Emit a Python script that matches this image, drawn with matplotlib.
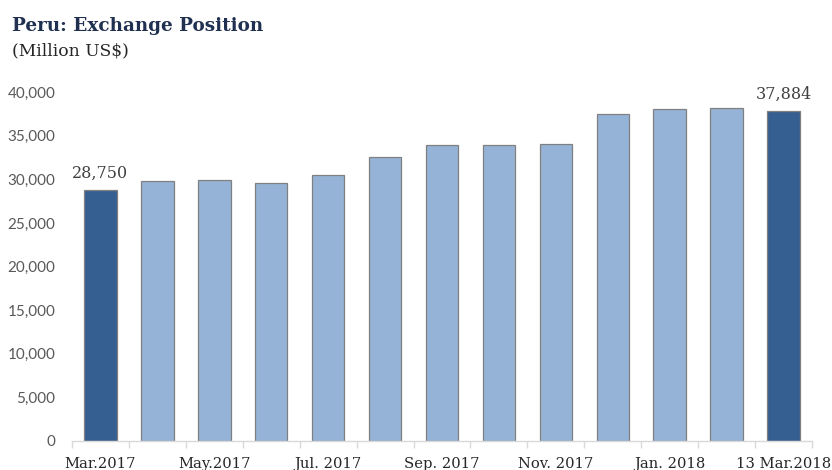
import matplotlib.pyplot as plt
import numpy as np

# data
months = ['Mar.2017', 'Apr.2017', 'May.2017', 'Jun.2017', 'Jul. 2017', 'Aug.2017', 'Sep. 2017',
          'Oct.2017', 'Nov. 2017', 'Dec.2017', 'Jan. 2018', 'Feb.2018', '13 Mar.2018']
position = [28750, 29780, 29930, 29550, 30540, 32540, 33910, 33910, 34030, 37510, 38050, 38230, 37884]
highlight = [0, 12]
yticks = [0, 5000, 10000, 15000, 20000, 25000, 30000, 35000, 40000]

light = '#95B3D7'
dark = '#365F91'
serif = 'DejaVu Serif'

fig = plt.figure(figsize=(8.32, 4.70), dpi=100)
ax = fig.add_axes([0.0865, 0.0623, 0.976 - 0.0865, 0.8036 - 0.0623])

x = np.arange(len(months))
colors = [dark if i in highlight else light for i in x]
ax.bar(x, position, width=0.57, color=colors, edgecolor='#808080', linewidth=0.9, zorder=2)

# data labels for the highlighted bars
for i in highlight:
	ax.text(x[i], position[i] + 950, '{:,}'.format(position[i]), ha='center', va='bottom',
	        family=serif, fontsize=11.5, color='#404040', clip_on=False)

ax.set_xlim(-0.5, len(months) - 0.5)
ax.set_ylim(0, 40000)

# y axis
ax.set_yticks(yticks)
ax.set_yticklabels(['{:,}'.format(v) for v in yticks], family='Lato', fontsize=11, color='#595959')
ax.tick_params(axis='y', length=0, pad=12)

# x axis: ticks between categories, labels on every other one
ax.set_xticks(np.arange(len(months) + 1) - 0.5)
ax.set_xticklabels([])
ax.tick_params(axis='x', which='major', length=5, color='#D9D9D9', width=1)
ax.set_xticks(x[::2], minor=True)
ax.set_xticklabels(months[::2], minor=True, family=serif, fontsize=10.6, color='#262626')
ax.tick_params(axis='x', which='minor', length=0, pad=12)

for s in ['top', 'right', 'left']:
	ax.spines[s].set_visible(False)
ax.spines['bottom'].set_color('#D9D9D9')
ax.spines['bottom'].set_linewidth(1)

fig.text(0.014, 0.935, 'Peru: Exchange Position', family=serif, fontweight='bold',
         fontsize=13.2, color='#1F3050')
fig.text(0.014, 0.882, '(Million US$)', family=serif, fontsize=12.3, color='#262626')

fig.savefig('out.png', dpi=100)
